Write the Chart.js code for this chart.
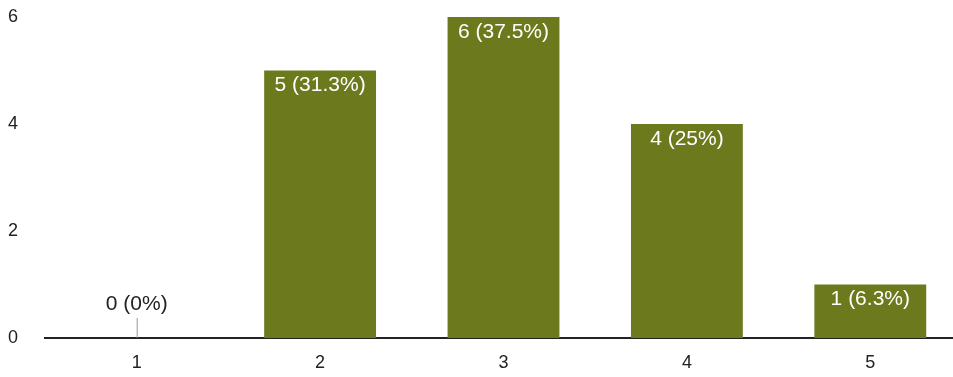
<!DOCTYPE html>
<html>
<head>
<meta charset="utf-8">
<script src="https://cdn.jsdelivr.net/npm/chart.js@4/dist/chart.umd.min.js"></script>
<style>
    html, body { margin: 0; padding: 0; background: #fff; overflow: hidden; }
    #wrap { width: 962px; height: 377px; }
</style>
</head>
<body>
<div id="wrap"><canvas id="myChart"></canvas></div>
<script>
const categories = ["1", "2", "3", "4", "5"];
const counts = [0, 5, 6, 4, 1];
const percents = ["0%", "31.3%", "37.5%", "25%", "6.3%"];
const yTicks = [0, 2, 4, 6];

const barLabels = {
    id: "barLabels",
    afterDatasetsDraw(chart) {
        const ctx = chart.ctx;
        const meta = chart.getDatasetMeta(0);
        ctx.save();
        ctx.font = "21px 'Liberation Sans', Arial, sans-serif";
        ctx.textAlign = "center";
        ctx.textBaseline = "middle";
        meta.data.forEach((bar, i) => {
            const text = counts[i] + " (" + percents[i] + ")";
            if (counts[i] > 0) {
                ctx.fillStyle = "#ffffff";
                ctx.fillText(text, bar.x, bar.y + 15);
            } else {
                ctx.strokeStyle = "#999999";
                ctx.lineWidth = 1;
                ctx.beginPath();
                ctx.moveTo(bar.x + 0.5, bar.y);
                ctx.lineTo(bar.x + 0.5, bar.y - 20);
                ctx.stroke();
                ctx.fillStyle = "#222222";
                ctx.fillText(text, bar.x, bar.y - 34);
            }
        });
        ctx.restore();
    },
};

const config = {
    type: "bar",
    data: {
        labels: categories,
        datasets: [
            {
                data: counts,
                backgroundColor: "#6c7a1d",
                barPercentage: 0.61,
                categoryPercentage: 1,
            },
        ],
    },
    options: {
        responsive: true,
        maintainAspectRatio: false,
        animation: false,
        layout: { padding: { top: 17, right: 0, left: 8, bottom: 0 } },
        plugins: {
            legend: { display: false },
            tooltip: { enabled: false },
        },
        scales: {
            x: {
                grid: { display: false, drawTicks: false },
                border: { display: true, color: "#222222", width: 2 },
                afterFit(scale) { scale.height = 39; },
                ticks: {
                    color: "#222222",
                    font: { size: 18, family: "'Liberation Sans', Arial, sans-serif" },
                    padding: 14,
                },
            },
            y: {
                min: 0,
                max: 6,
                grid: { display: false, drawTicks: false },
                border: { display: false },
                afterFit(scale) { scale.width = 37; },
                afterBuildTicks(scale) {
                    scale.ticks = yTicks.map((v) => ({ value: v }));
                },
                ticks: {
                    color: "#222222",
                    font: { size: 18, family: "'Liberation Sans', Arial, sans-serif" },
                    padding: 0,
                    crossAlign: "far",
                },
            },
        },
    },
    plugins: [barLabels],
};

var myChart = new Chart(document.getElementById("myChart"), config);
</script>
</body>
</html>
